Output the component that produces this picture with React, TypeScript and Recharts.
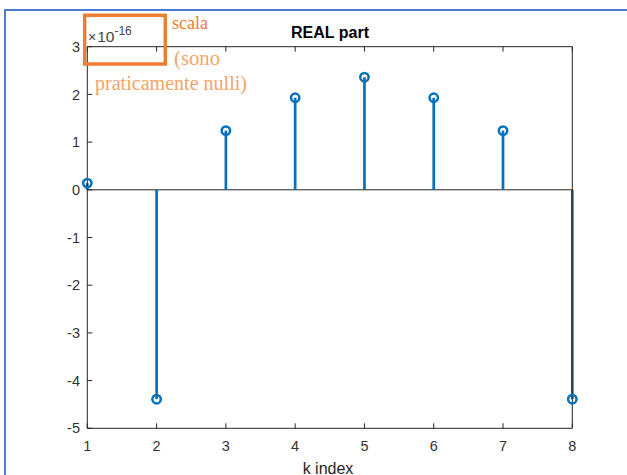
import React from 'react';
import {
  ComposedChart,
  XAxis,
  YAxis,
  Scatter,
  ReferenceLine,
} from 'recharts';

// DFT real part, in units of 1e-16
const kIndex = [1, 2, 3, 4, 5, 6, 7, 8];
const realPart = [0.14, -4.39, 1.24, 1.93, 2.36, 1.93, 1.24, -4.39];

const xTicks = [1, 2, 3, 4, 5, 6, 7, 8];
const yTicks = [-5, -4, -3, -2, -1, 0, 1, 2, 3];

const data = kIndex.map((k, i) => ({ k, v: realPart[i] }));

const W = 627;
const H = 475;
const STEM = '#0072BD';
const AXIS = '#262626';
const FONT = '"Liberation Sans", Arial, Helvetica, sans-serif';
const SERIF = '"Liberation Serif", "DejaVu Serif", serif';
const ORANGE = '#ED7D31';
const ORANGE_LIGHT = '#F5A468';

const tickStyle = { fontSize: 14.5, fill: '#333333', fontFamily: FONT };

const StemHead = (props: any) => {
  const { cx, cy } = props;
  if (cx == null || cy == null) return <g />;
  return <circle cx={cx} cy={cy} r={4.2} fill="none" stroke={STEM} strokeWidth={2.5} />;
};

export default function App() {
  return (
    <div style={{ position: 'absolute', left: 0, top: 0, width: W, height: H, background: '#fff' }}>
      <ComposedChart
        width={W}
        height={H}
        data={data}
        margin={{ top: 36.7, right: 44.7, left: 47.3, bottom: 16.7 }}
      >
        <XAxis
          xAxisId="bottom"
          dataKey="k"
          type="number"
          domain={[1, 8]}
          ticks={xTicks}
          orientation="bottom"
          height={30}
          stroke={AXIS}
          tickSize={-5}
          tickMargin={17.4}
          tick={tickStyle}
          interval={0}
        />
        <XAxis
          xAxisId="top"
          dataKey="k"
          type="number"
          domain={[1, 8]}
          ticks={xTicks}
          orientation="top"
          height={10}
          stroke={AXIS}
          tickSize={-5}
          tickFormatter={() => ''}
          interval={0}
        />
        <YAxis
          yAxisId="left"
          type="number"
          domain={[-5, 3]}
          ticks={yTicks}
          orientation="left"
          width={40}
          stroke={AXIS}
          tickSize={-5}
          tickMargin={12.3}
          tick={tickStyle}
          interval={0}
        />
        <YAxis
          yAxisId="right"
          type="number"
          domain={[-5, 3]}
          ticks={yTicks}
          orientation="right"
          width={10}
          stroke={AXIS}
          tickSize={-5}
          tickFormatter={() => ''}
          interval={0}
        />
        <ReferenceLine xAxisId="bottom" yAxisId="left" y={0} stroke={AXIS} strokeWidth={1} />
        {data.map((d) => (
          <ReferenceLine
            key={d.k}
            xAxisId="bottom"
            yAxisId="left"
            segment={[
              { x: d.k, y: 0 },
              { x: d.k, y: d.v },
            ]}
            stroke={STEM}
            strokeWidth={2.7}
          />
        ))}
        <Scatter
          xAxisId="bottom"
          yAxisId="left"
          dataKey="v"
          shape={StemHead}
          isAnimationActive={false}
        />
      </ComposedChart>
      <svg
        width={W}
        height={H}
        style={{ position: 'absolute', left: 0, top: 0, pointerEvents: 'none' }}
      >
        <path d={`M5,${H} L5,10 L${W},10`} fill="none" stroke="#4B7BD4" strokeWidth={2} />
        <text x={330} y={37.5} textAnchor="middle" fontFamily={FONT} fontWeight="bold" fontSize={16} fill="#000">
          REAL part
        </text>
        <text x={328} y={473.5} textAnchor="middle" fontFamily={FONT} fontSize={16} fill={AXIS}>
          k index
        </text>
        <text x={88} y={42} fontFamily={FONT} fill="#444">
          <tspan fontSize={14}>×</tspan>
          <tspan fontSize={15.5} dx={1}>10</tspan>
          <tspan fontSize={12} dy={-7}>-16</tspan>
        </text>
        <rect x={84.7} y={15.3} width={80.6} height={48.7} fill="none" stroke={ORANGE} strokeWidth={3.5} />
        <text x={172} y={29} fontFamily={SERIF} fontSize={19} fill={ORANGE} textLength={36} lengthAdjust="spacingAndGlyphs">
          scala
        </text>
        <text x={174} y={65} fontFamily={SERIF} fontSize={20} fill={ORANGE_LIGHT} textLength={46} lengthAdjust="spacingAndGlyphs">
          (sono
        </text>
        <text x={95} y={90} fontFamily={SERIF} fontSize={20} fill={ORANGE_LIGHT} textLength={152} lengthAdjust="spacingAndGlyphs">
          praticamente nulli)
        </text>
      </svg>
    </div>
  );
}
